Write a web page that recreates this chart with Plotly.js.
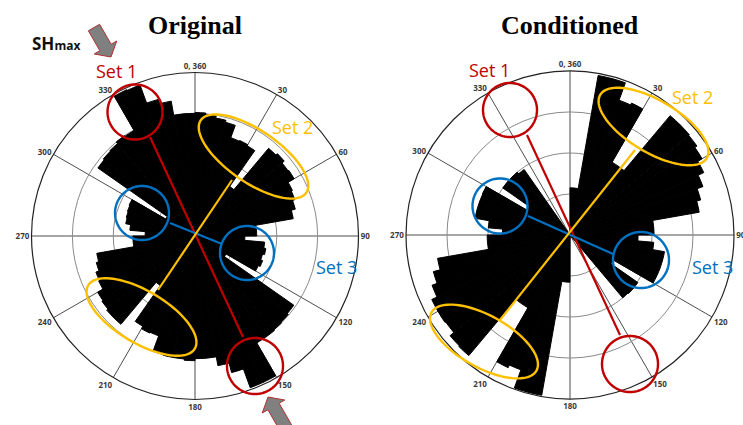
<!DOCTYPE html>
<html>
<head>
<meta charset="utf-8">
<script src="https://cdn.plot.ly/plotly-3.0.1.min.js"></script>
<style>
  html, body { margin: 0; padding: 0; background: #ffffff; }
  #chart { width: 743px; height: 425px; }
</style>
</head>
<body>
<div id="chart"></div>
<script>
// 5-degree bins, bin centres in degrees (clockwise from north)
const binCenters = [
  2.5, 7.5, 12.5, 17.5, 22.5, 27.5, 32.5, 37.5, 42.5, 47.5, 52.5, 57.5,
  62.5, 67.5, 72.5, 77.5, 82.5, 87.5, 92.5, 97.5, 102.5, 107.5, 112.5, 117.5,
  122.5, 127.5, 132.5, 137.5, 142.5, 147.5, 152.5, 157.5, 162.5, 167.5, 172.5, 177.5,
  182.5, 187.5, 192.5, 197.5, 202.5, 207.5, 212.5, 217.5, 222.5, 227.5, 232.5, 237.5,
  242.5, 247.5, 252.5, 257.5, 262.5, 267.5, 272.5, 277.5, 282.5, 287.5, 292.5, 297.5,
  302.5, 307.5, 312.5, 317.5, 322.5, 327.5, 332.5, 337.5, 342.5, 347.5, 352.5, 357.5
];
const binWidth = 5;

// Original orientation set (bidirectional rose, relative frequency)
const originalFreq = [
  3.02, 2.98, 2.93, 2.88, 2.56, 2.58, 2.55, 1.48, 2.80, 2.85, 2.78, 2.80,
  2.63, 2.60, 2.54, 2.44, 1.51, 1.51, 1.22, 1.71, 1.76, 1.71, 1.76, 1.71,
  0.88, 2.95, 2.98, 3.00, 3.02, 3.02, 3.95, 3.95, 3.46, 3.22, 3.00, 3.00,
  3.05, 3.02, 3.02, 3.00, 2.60, 2.62, 2.55, 1.48, 2.82, 2.82, 2.78, 2.75,
  2.60, 2.58, 2.50, 2.44, 1.52, 1.52, 1.22, 1.60, 1.72, 1.74, 1.76, 1.78,
  0.83, 2.90, 2.93, 2.95, 3.00, 2.98, 3.95, 3.93, 3.46, 3.35, 3.00, 3.00
];

// Conditioned orientation set
const conditionedFreq = [
  1.15, 1.15, 3.95, 3.95, 3.50, 3.55, 2.05, 2.05, 3.80, 3.80, 3.78, 3.72,
  3.60, 3.45, 3.30, 3.20, 2.05, 2.05, 1.66, 2.05, 2.34, 2.34, 2.34, 2.34,
  1.22, 2.02, 2.02, 2.00, 0, 0, 0, 0, 0, 0, 0, 0,
  1.15, 1.15, 3.97, 3.97, 3.50, 3.57, 2.05, 2.05, 3.84, 3.82, 3.70, 3.72,
  3.72, 3.58, 3.45, 3.28, 2.02, 2.02, 1.65, 2.00, 2.35, 2.35, 2.35, 2.36,
  1.22, 2.00, 2.00, 2.00, 1.95, 0, 0, 0, 0, 0, 0, 0
];

const angleTicks = [0, 30, 60, 90, 120, 150, 180, 210, 240, 270, 300, 330];
const angleLabels = ['0, 360', '30', '60', '90', '120', '150', '180', '210', '240', '270', '300', '330'];
const radialRings = [1, 2, 3];
const radialMax = 4;

const panelTitles = ['Original', 'Conditioned'];

// ---- page geometry helpers (pixel -> paper) ----
const W = 743, H = 425;
const px = x => x / W;
const py = y => 1 - y / H;

function ellipsePath(cx, cy, a, b, rotDeg) {
  const t = rotDeg * Math.PI / 180;
  let d = '';
  const n = 96;
  for (let i = 0; i <= n; i++) {
    const u = 2 * Math.PI * i / n;
    const ex = a * Math.cos(u), ey = b * Math.sin(u);
    const x = cx + ex * Math.cos(t) - ey * Math.sin(t);
    const y = cy + ex * Math.sin(t) + ey * Math.cos(t);
    d += (i === 0 ? 'M' : 'L') + px(x).toFixed(5) + ',' + py(y).toFixed(5);
  }
  return d + 'Z';
}

function ring(cx, cy, a, b, rot, color) {
  return { type: 'path', xref: 'paper', yref: 'paper', path: ellipsePath(cx, cy, a, b, rot),
           line: { color: color, width: 2.4 }, fillcolor: 'rgba(0,0,0,0)' };
}

function seg(x0, y0, x1, y1, color) {
  return { type: 'line', xref: 'paper', yref: 'paper',
           x0: px(x0), y0: py(y0), x1: px(x1), y1: py(y1),
           line: { color: color, width: 2.2 } };
}

// block arrow: tip point, pointing direction (dx,dy), total length, head length, half widths
function blockArrow(tx, ty, dx, dy, len, headLen, shaftHalf, headHalf) {
  const n = Math.hypot(dx, dy); dx /= n; dy /= n;
  const qx = -dy, qy = dx;
  const bx = tx - dx * headLen, by = ty - dy * headLen;
  const sx = tx - dx * len, sy = ty - dy * len;
  const pts = [
    [tx, ty],
    [bx + qx * headHalf, by + qy * headHalf],
    [bx + qx * shaftHalf, by + qy * shaftHalf],
    [sx + qx * shaftHalf, sy + qy * shaftHalf],
    [sx - qx * shaftHalf, sy - qy * shaftHalf],
    [bx - qx * shaftHalf, by - qy * shaftHalf],
    [bx - qx * headHalf, by - qy * headHalf]
  ];
  const d = pts.map((p, i) => (i ? 'L' : 'M') + px(p[0]).toFixed(5) + ',' + py(p[1]).toFixed(5)).join('') + 'Z';
  return { type: 'path', xref: 'paper', yref: 'paper', path: d,
           fillcolor: '#808080', line: { color: '#b03030', width: 1 } };
}

const RED = '#c00000', ORANGE = '#ffc000', BLUE = '#0070c0';

function roseTrace(values, subplot) {
  return {
    type: 'barpolar',
    subplot: subplot,
    theta: binCenters,
    r: values,
    width: binWidth,
    // a thin outline in the fill colour closes the hairline seams between bins
    marker: { color: '#000000', line: { color: '#000000', width: 1 } },
    hoverinfo: 'skip'
  };
}

function polarAxes(domainX, domainY) {
  return {
    domain: { x: domainX, y: domainY },
    bgcolor: '#ffffff',
    angularaxis: {
      direction: 'clockwise', rotation: 90,
      tickmode: 'array', tickvals: angleTicks, ticktext: angleLabels,
      ticks: '', showline: true, linecolor: '#222222', linewidth: 1.2,
      gridcolor: '#4d4d4d', gridwidth: 1,
      tickfont: { family: 'Open Sans, sans-serif', size: 8, color: '#3a3a3a', weight: 'bold' }
    },
    radialaxis: {
      range: [0, radialMax], tickmode: 'array', tickvals: radialRings,
      showticklabels: false, ticks: '', showline: false,
      gridcolor: '#8a8a8a', gridwidth: 1
    }
  };
}

const data = [roseTrace(originalFreq, 'polar'), roseTrace(conditionedFreq, 'polar2')];

const textFont = (size, color) => ({ family: 'Open Sans, sans-serif', size: size, color: color });

const annotations = [
  { text: '<b>' + panelTitles[0] + '</b>', x: px(195), y: py(25) },
  { text: '<b>' + panelTitles[1] + '</b>', x: px(570), y: py(25) }
].map(a => Object.assign(a, { xref: 'paper', yref: 'paper', showarrow: false,
  xanchor: 'center', yanchor: 'middle',
  font: { family: 'Liberation Serif, Times New Roman, serif', size: 26, color: '#000000' } }));

annotations.push(
  { text: '<b>SH<span style="font-size:12px">max</span></b>', x: px(56), y: py(44),
    font: textFont(17, '#111111') },
  { text: 'Set 1', x: px(116), y: py(71), font: textFont(18, RED) },
  { text: 'Set 2', x: px(292), y: py(127), font: textFont(18, ORANGE) },
  { text: 'Set 3', x: px(336), y: py(267), font: textFont(18, BLUE) },
  { text: 'Set 1', x: px(490), y: py(70), font: textFont(18, RED) },
  { text: 'Set 2', x: px(692), y: py(97), font: textFont(18, ORANGE) },
  { text: 'Set 3', x: px(712), y: py(267), font: textFont(18, BLUE) }
);
for (let i = 2; i < annotations.length; i++) {
  Object.assign(annotations[i], { xref: 'paper', yref: 'paper', showarrow: false,
    xanchor: 'center', yanchor: 'middle' });
}

const shapes = [
  // Original: set 1 (red)
  seg(150, 137, 243, 337, RED),
  ring(135, 112, 27.5, 27.5, 0, RED),
  ring(255, 366, 28, 28, 0, RED),
  // Original: set 3 (blue)
  seg(170, 223, 222, 244, BLUE),
  ring(142, 213, 27, 27, 0, BLUE),
  ring(247, 253, 27, 27, 0, BLUE),
  // Original: set 2 (orange)
  seg(232, 180, 158, 290, ORANGE),
  ring(253.5, 156.5, 64, 26, 34.5, ORANGE),
  ring(141.5, 317, 62, 26, 30.7, ORANGE),
  // Conditioned: set 1 (red)
  seg(527, 135, 620, 335, RED),
  ring(510, 110, 27, 27, 0, RED),
  ring(630, 364, 28, 28, 0, RED),
  // Conditioned: set 3 (blue)
  seg(528, 216, 613, 254, BLUE),
  ring(500, 206, 27.5, 27.5, 0, BLUE),
  ring(641, 260, 28, 28, 0, BLUE),
  // Conditioned: set 2 (orange)
  seg(635, 150, 500, 320, ORANGE),
  ring(653.5, 126.5, 62, 26, 30.7, ORANGE),
  ring(484, 341.5, 60, 26, 29, ORANGE),
  // SHmax direction arrows
  blockArrow(111, 57, 0.5, 0.866, 34, 11, 6.5, 13),
  blockArrow(268, 397, -0.5, -0.866, 36, 11, 6.5, 13)
];

const layout = {
  width: W, height: H,
  margin: { l: 0, r: 0, t: 0, b: 0 },
  paper_bgcolor: '#ffffff',
  showlegend: false,
  polar: polarAxes([(195 - 163.5) / W, (195 + 163.5) / W], [1 - (236 + 163.5) / H, 1 - (236 - 163.5) / H]),
  polar2: polarAxes([(570 - 164) / W, (570 + 164) / W], [1 - (235 + 164) / H, 1 - (235 - 164) / H]),
  annotations: annotations,
  shapes: shapes
};

Plotly.newPlot('chart', data, layout, { displayModeBar: false, staticPlot: true });
</script>
</body>
</html>
